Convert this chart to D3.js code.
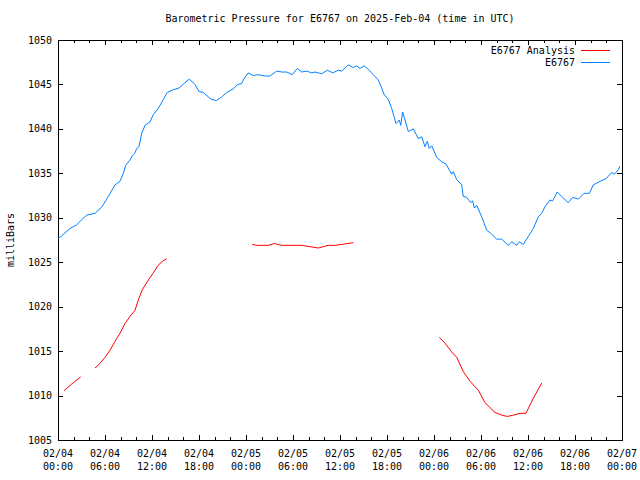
<!DOCTYPE html>
<html><head><meta charset="utf-8">
<script src="https://cdn.jsdelivr.net/npm/d3@7"></script>
<style>body{margin:0;background:#fff}svg{display:block}text{font-family:"DejaVu Sans Mono",monospace;font-size:10px;fill:#000}</style>
</head><body><svg id="c" width="640" height="480"></svg>
<script>
const titleText = "Barometric Pressure for E6767 on 2025-Feb-04 (time in UTC)";
const yLabelText = "milliBars";
const seriesNames = ["E6767 Analysis", "E6767"];
const seriesColors = ["#ff0000", "#0080ff"];
const startTime = "2025-02-04T00:00:00Z";
const endTime = "2025-02-07T00:00:00Z";
const yTicks = [1005, 1010, 1015, 1020, 1025, 1030, 1035, 1040, 1045, 1050];

// observed station pressure (hours after start, mb)
const obsHours = [0,0.26,1.53,2.39,3.03,3.66,4.72,5.58,6.42,7.28,7.91,8.34,8.64,9.19,9.49,9.83,10.05,10.34,10.69,11.11,11.74,12.17,12.80,13.44,13.95,14.72,15.45,16.21,16.76,17.49,18.00,18.55,19.19,19.62,20.26,20.90,21.54,22.38,22.94,23.45,23.78,24.29,24.93,25.57,26.43,27.06,27.92,28.56,29.20,29.91,30.55,31.11,31.75,32.39,32.81,33.23,33.66,34.38,35.07,35.78,36.22,37.06,37.70,38.13,38.55,39.06,39.61,40.25,40.89,41.32,41.62,42.17,42.60,43.15,43.57,43.75,44.00,44.30,44.72,45.36,46.00,46.43,46.85,47.14,47.40,47.71,48.34,48.98,49.53,50.26,50.46,50.90,51.54,51.74,52.17,52.69,52.94,53.15,53.45,54.09,54.73,55.24,56.00,56.64,57.49,57.92,58.56,58.89,59.40,60.04,60.68,61.32,61.75,62.17,62.81,63.15,63.74,64.30,65.14,65.71,66.42,67.15,67.83,68.34,69.19,69.96,70.69,71.02,71.53,71.74];
const obsPressure = [1027.7,1027.8,1028.8,1029.2,1029.8,1030.3,1030.5,1031.2,1032.4,1033.7,1034.1,1035.0,1035.9,1036.5,1037.0,1037.3,1037.8,1038.0,1039.5,1040.4,1040.8,1041.6,1042.3,1043.3,1044.1,1044.4,1044.6,1045.2,1045.6,1045.0,1044.2,1044.1,1043.6,1043.3,1043.2,1043.6,1044.1,1044.5,1045.0,1045.1,1045.7,1046.3,1046.0,1046.1,1045.95,1045.95,1046.5,1046.4,1046.4,1046.1,1046.8,1046.4,1046.5,1046.3,1046.4,1046.3,1046.2,1046.6,1046.3,1046.6,1046.5,1047.2,1046.9,1047.1,1046.8,1047.1,1046.7,1046.1,1045.5,1044.6,1043.9,1043.3,1042.3,1040.6,1041.0,1040.4,1041.9,1041.0,1039.7,1040.0,1038.9,1039.1,1038.0,1038.6,1037.8,1038.1,1036.8,1036.3,1036.05,1034.9,1035.2,1034.3,1033.7,1032.4,1032.3,1031.7,1031.9,1031.1,1031.4,1030.1,1028.6,1028.25,1027.6,1027.6,1026.9,1027.3,1026.9,1027.3,1027.0,1027.9,1028.8,1030.1,1030.5,1031.25,1032.0,1031.9,1032.9,1032.4,1031.7,1032.3,1032.1,1032.75,1032.75,1033.7,1034.1,1034.4,1035.1,1034.9,1035.4,1035.8];

// analysis pressure (null = gap)
const anaHours = [0.77,1.75,2.90,3.8,4.72,5.36,6.00,6.64,7.28,7.91,8.55,9.19,9.83,10.25,10.76,11.53,12.17,12.73,13.31,13.88,19,24.80,25.37,26.85,27.61,28.56,31.11,32.17,33.23,33.87,34.51,35.36,36.22,37.70,43,48.68,49.40,50.26,50.90,51.74,52.60,53.66,54.51,55.79,56.64,57.36,58.12,58.98,59.74,60.68,61.75];
const anaPressure = [1010.55,1011.3,1012.1,null,1013.1,1013.6,1014.3,1015.1,1016.1,1017.0,1018.1,1018.9,1019.6,1020.75,1021.9,1023.0,1023.8,1024.6,1025.1,1025.4,null,1027.0,1026.9,1026.9,1027.1,1026.9,1026.9,1026.75,1026.6,1026.75,1026.9,1026.9,1027.0,1027.2,null,1016.55,1015.9,1014.9,1014.3,1012.7,1011.6,1010.6,1009.2,1008.1,1007.8,1007.65,1007.8,1008.0,1008.0,1009.7,1011.4];

const svg = d3.select("#c");
const L = 58, R = 622, T = 40, B = 440;
const t0 = new Date(startTime), t1 = new Date(endTime);
const toDate = h => new Date(t0.getTime() + h * 3600e3);
const x = d3.scaleUtc().domain([t0, t1]).range([L, R]);
const y = d3.scaleLinear().domain([1005, 1050]).range([B, T]);

const g = svg.append("g").attr("shape-rendering", "crispEdges");

// y ticks (inward, mirrored)
yTicks.forEach(v => {
  const yy = Math.round(y(v)) + 0.5;
  g.append("line").attr("x1", L).attr("x2", L + 5).attr("y1", yy).attr("y2", yy).attr("stroke", "#000");
  g.append("line").attr("x1", R - 5).attr("x2", R).attr("y1", yy).attr("y2", yy).attr("stroke", "#000");
  svg.append("text").attr("x", 52).attr("y", y(v)).attr("dy", "0.35em").attr("text-anchor", "end").text(v);
});

// x ticks
const minor = d3.utcHour.every(2).range(t0, new Date(t1.getTime() + 1));
const major = d3.utcHour.every(6).range(t0, new Date(t1.getTime() + 1));
minor.forEach(d => {
  const isMajor = d.getUTCHours() % 6 === 0;
  const len = isMajor ? 5 : 3;
  const xx = Math.round(x(d)) + 0.5;
  g.append("line").attr("x1", xx).attr("x2", xx).attr("y1", B).attr("y2", B - len).attr("stroke", "#000");
  g.append("line").attr("x1", xx).attr("x2", xx).attr("y1", T).attr("y2", T + len).attr("stroke", "#000");
});
const fD = d3.utcFormat("%m/%d"), fT = d3.utcFormat("%H:%M");
major.forEach(d => {
  svg.append("text").attr("x", x(d)).attr("y", 457).attr("text-anchor", "middle").text(fD(d));
  svg.append("text").attr("x", x(d)).attr("y", 470).attr("text-anchor", "middle").text(fT(d));
});

// frame
g.append("rect").attr("x", L + 0.5).attr("y", T + 0.5).attr("width", R - L).attr("height", B - T)
  .attr("fill", "none").attr("stroke", "#000");

// title & y label
svg.append("text").attr("x", (L + R) / 2).attr("y", 22).attr("text-anchor", "middle").text(titleText);
svg.append("text").attr("transform", `translate(14,${(T + B) / 2}) rotate(-90)`).attr("text-anchor", "middle").text(yLabelText);

// data
const obs = obsHours.map((h, i) => ({ t: toDate(h), v: obsPressure[i] }));
const ana = anaHours.map((h, i) => ({ t: toDate(h), v: anaPressure[i] }));
const line = d3.line().defined(d => d.v != null).x(d => x(d.t)).y(d => y(d.v));
svg.append("path").datum(ana).attr("d", line).attr("fill", "none").attr("stroke", seriesColors[0]).attr("stroke-width", 1);
svg.append("path").datum(obs).attr("d", line).attr("fill", "none").attr("stroke", seriesColors[1]).attr("stroke-width", 1);

// legend
seriesNames.forEach((n, i) => {
  const yy = 50 + i * 12;
  svg.append("text").attr("x", 575).attr("y", yy).attr("dy", "0.35em").attr("text-anchor", "end").text(n);
  g.append("line").attr("x1", 581).attr("x2", 610).attr("y1", yy + 0.5).attr("y2", yy + 0.5).attr("stroke", seriesColors[i]);
});
</script></body></html>
